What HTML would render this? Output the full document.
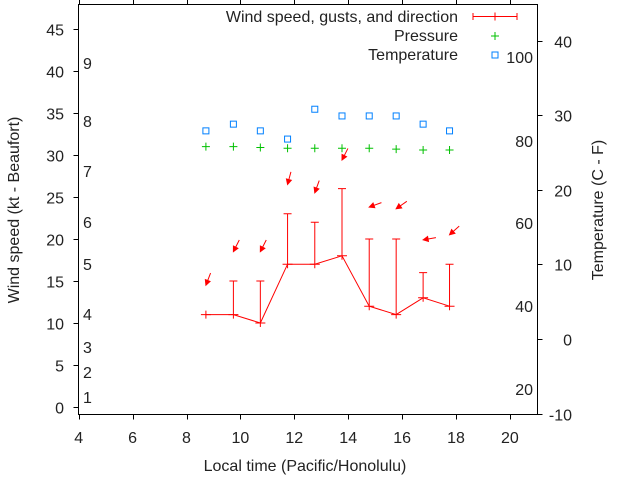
<!DOCTYPE html>
<html><head><meta charset="utf-8"><style>
body{margin:0;background:#fff}
svg text{font-family:"Liberation Sans",sans-serif;font-size:16px;fill:#222}
</style></head><body>
<svg id="c" width="640" height="480" xmlns="http://www.w3.org/2000/svg"></svg>
<script>
const times=[8.72,9.74,10.74,11.75,12.76,13.77,14.78,15.78,16.78,17.76];
const windSpeed=[11,11,10,17,17,18,12,11,13,12];
const windGust=[11,15,15,23,22,26,20,20,16,17];
const arrowPos=[14.5,18.5,18.5,26.5,25.5,29.4,23.8,23.6,19.9,20.5];
const windDir=[21,27,27,15,20,27,70,55,80,48];
const pressure=[31.0,31.0,30.9,30.8,30.8,30.8,30.8,30.7,30.6,30.6];
const tempC=[27.9,28.8,27.9,26.8,30.8,29.9,29.9,29.9,28.8,27.9];
const xTicks=[4,6,8,10,12,14,16,18,20];
const yTicks=[0,5,10,15,20,25,30,35,40,45];
const y2Ticks=[-10,0,10,20,30,40];
const beaufort=[[1,397],[2,372],[3,347],[4,314],[5,264],[6,222],[7,171],[8,121],[9,63]];
const fahr=[[100,57],[80,141],[60,223],[40,306],[20,389]];
const L=78.5,R=537.5,T=4.5,B=414.5;
const X=h=>78.7+(h-4)*26.95;
const Y=v=>407-v*8.4;
const Y2=v=>339-v*7.46;
const s=document.getElementById('c');
function mk(tag,a,txt){const e=document.createElementNS('http://www.w3.org/2000/svg',tag);for(const k in a)e.setAttribute(k,a[k]);if(txt!==undefined)e.textContent=txt;s.appendChild(e);return e;}
let e;
e=mk('rect',{x:L,y:T,width:R-L,height:B-T,fill:'none',stroke:'#000','stroke-width':1});


xTicks.forEach(t=>{const x=Math.round(X(t))+0.5;
 e=mk('line',{x1:x,y1:B,x2:x,y2:B+5,stroke:'#000'});
 
 
 mk('line',{x1:x,y1:T,x2:x,y2:T-5,stroke:'#000'});
 e=mk('text',{x:X(t),y:443,'text-anchor':'middle'},t);
 
 });
yTicks.forEach(t=>{const y=Math.round(Y(t))+0.5;
 e=mk('line',{x1:L-5,y1:y,x2:L,y2:y,stroke:'#000'});
 
 
 e=mk('text',{x:64,y:y+6,'text-anchor':'end'},t);
 
 });
y2Ticks.forEach(t=>{const y=Math.round(Y2(t))+0.5;
 e=mk('line',{x1:R,y1:y,x2:R+5,y2:y,stroke:'#000'});
 
 
 e=mk('text',{x:572,y:y+6,'text-anchor':'end'},t);
 
 });
beaufort.forEach(b=>{e=mk('text',{x:83,y:b[1]+6},b[0]);
 
 });
fahr.forEach(f=>{e=mk('text',{x:533,y:f[1]+6,'text-anchor':'end'},f[0]);
 
 });
e=mk('text',{x:305,y:471,'text-anchor':'middle'},'Local time (Pacific/Honolulu)');


e=mk('text',{x:19,y:210,'text-anchor':'middle',transform:'rotate(-90 19 210)'},'Wind speed (kt - Beaufort)');


e=mk('text',{x:603,y:210,'text-anchor':'middle',transform:'rotate(-90 603 210)'},'Temperature (C - F)');


e=mk('polyline',{points:times.map((t,i)=>X(t)+','+Y(windSpeed[i])).join(' '),fill:'none',stroke:'#f00'});


times.forEach((t,i)=>{const x=X(t),y=Y(windSpeed[i]),g=Y(windGust[i]);
 e=mk('path',{d:`M${x-5},${y}h10M${x},${y-4}v8M${x},${y}V${g}M${x-4},${g}h8`,stroke:'#f00',fill:'none'});
 
 
 const a=windDir[i]*Math.PI/180,hx=x,hy=Y(arrowPos[i]),tx=hx+13*Math.sin(a),ty=hy-13*Math.cos(a);
 const ux=(hx-tx)/13,uy=(hy-ty)/13,px=-uy,py=ux;
 e=mk('path',{d:`M${tx},${ty}L${hx},${hy}M${hx},${hy}L${hx-5*ux+2.5*px},${hy-5*uy+2.5*py}L${hx-5*ux-2.5*px},${hy-5*uy-2.5*py}Z`,stroke:'#f00',fill:'#f00'});
 
 
 const py2=Y(pressure[i]);
 e=mk('path',{d:`M${x-4},${py2}h8M${x},${py2-4}v8`,stroke:'#00c000'});
 
 
 const ty2=Y2(tempC[i]);
 e=mk('rect',{x:x-3,y:ty2-3,width:6,height:6,fill:'none',stroke:'#0080ff'});
 
 });
e=mk('text',{x:458,y:22,'text-anchor':'end'},'Wind speed, gusts, and direction');


mk('path',{d:'M473,16.5h44M473,13v7M517,13v7M495,12.5v8',stroke:'#f00',fill:'none'});
e=mk('text',{x:458,y:41,'text-anchor':'end'},'Pressure');


mk('path',{d:'M491,36h8M495,32v8',stroke:'#00c000'});
e=mk('text',{x:458,y:60,'text-anchor':'end'},'Temperature');


mk('rect',{x:492,y:52,width:6,height:6,fill:'none',stroke:'#0080ff'});
</script>
</body></html>
